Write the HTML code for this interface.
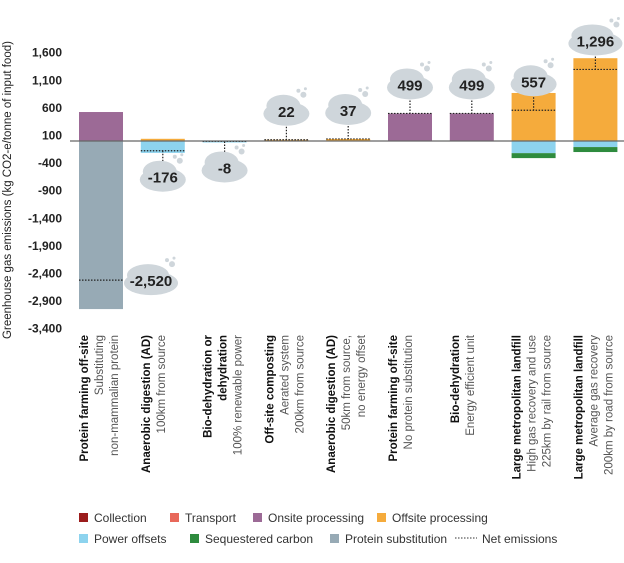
<!DOCTYPE html>
<html><head><meta charset="utf-8"><style>
body{margin:0;background:#fff;font-family:"Liberation Sans",sans-serif}
svg text{font-family:"Liberation Sans",sans-serif}
</style></head><body>
<svg id="c" width="624" height="558"></svg>
<script>
const boldLabels=["Protein farming off-site","Anaerobic digestion (AD)","Bio-dehydration or|dehydration","Off-site composting","Anaerobic digestion (AD)","Protein farming off-site","Bio-dehydration","Large metropolitan landfill","Large metropolitan landfill"];
const subLabels=["Substituting|non-mammalian protein","100km from source","100% renewable power","Aerated system|200km from source","50km from source,|no energy offset","No protein substitution","Energy efficient unit","High gas recovery and use|225km by rail from source","Average gas recovery|200km by road from source"];
const onsite=[525,0,0,0,0,499,499,0,0];
const offsite=[0,40,0,22,37,0,0,870,1500];
const power=[0,-216,-8,0,0,0,0,-220,-110];
const sequestered=[0,0,0,0,0,0,0,-90,-90];
const protein=[-3045,0,0,0,0,0,0,0,0];
const net=[-2520,-176,-8,22,37,499,499,557,1296];
const netLabels=["-2,520","-176","-8","22","37","499","499","557","1,296"];
const yTicks=[1600,1100,600,100,-400,-900,-1400,-1900,-2400,-2900,-3400];
const yTickLabels=["1,600","1,100","600","100","-400","-900","-1,400","-1,900","-2,400","-2,900","-3,400"];

const NS="http://www.w3.org/2000/svg",svg=document.getElementById('c');
function el(t,a,p){const e=document.createElementNS(NS,t);for(const k in a)e.setAttribute(k,a[k]);(p||svg).appendChild(e);return e;}
const y=v=>141-v*0.0552;
const bx=i=>79+i*61.8, bw=44;
const ta=el('text',{x:0,y:0,'font-size':11.5,fill:'#222','text-anchor':'middle',transform:'translate(11,190) rotate(-90)'});

ta.textContent="Greenhouse gas emissions (kg CO2-e/tonne of input food)";
yTicks.forEach((t,i)=>{const e=el('text',{x:62,y:y(t)+4,'font-size':12,'font-weight':'bold',fill:'#222','text-anchor':'end'});
e.textContent=yTickLabels[i];});
const series=[[onsite,'#9c6a96','onsite'],[offsite,'#f5ab3c','offsite'],[power,'#8dd3ee','power'],[sequestered,'#2e8b3e','sequestered'],[protein,'#97aab5','protein']];
for(let i=0;i<9;i++){
  let pos=0,neg=0;
  series.forEach(([arr,col,nm])=>{const v=arr[i];if(!v)return;let a,b;
    if(v>0){a=pos;b=pos+v;pos=b;}else{a=neg;b=neg+v;neg=b;}
    const r=el('rect',{x:bx(i),y:Math.min(y(a),y(b)),width:bw,height:Math.max(Math.abs(y(a)-y(b)),1.5),fill:col});
    });
  const ny=y(net[i]);
  const l=el('line',{x1:bx(i),x2:bx(i)+bw,y1:ny,y2:ny,stroke:'#222','stroke-width':1.2,'stroke-dasharray':'1.5,1.5'});
  
  let cx,cy;
  if(i===0){cx=bx(i)+bw+28;cy=ny;}
  else if(net[i]<0){cx=bx(i)+bw/2;cy=Math.min(y(neg),ny)+26;}
  else{cx=bx(i)+bw/2;cy=Math.max(y(pos),ny)-29;}
  const g=el('g',{});
  if(i>0)el('line',{x1:cx,x2:cx,y1:net[i]<0?ny:cy+13,y2:net[i]<0?cy-13:ny,stroke:'#222','stroke-width':1.2,'stroke-dasharray':'1.5,1.5'},g);
  const w=i===8||i===0?27:23;
  el('ellipse',{cx:cx,cy:cy+3,rx:w,ry:12,fill:'#cfd6db'},g);
  el('ellipse',{cx:cx-3,cy:cy-5,rx:w-6,ry:11,fill:'#cfd6db'},g);
  el('circle',{cx:cx+w-6,cy:cy-16,r:3,fill:'#cfd6db'},g);
  el('circle',{cx:cx+w-11,cy:cy-20,r:2,fill:'#cfd6db'},g);
  el('circle',{cx:cx+w-4,cy:cy-22,r:1.5,fill:'#cfd6db'},g);
  const t=el('text',{x:cx,y:cy+6,'font-size':15,'font-weight':'bold',fill:'#222','text-anchor':'middle'},g);t.textContent=netLabels[i];
  const bl=boldLabels[i].split('|'),sl=subLabels[i].split('|');
  const all=bl.map(s=>[s,1]).concat(sl.map(s=>[s,0]));
  const cg=el('g',{});
  all.forEach(([s,b],k)=>{const lx=bx(i)+9+k*15;
    const tt=el('text',{x:0,y:0,'font-size':11.5,'font-weight':b?'bold':'normal',fill:b?'#111':'#555','text-anchor':'end',transform:`translate(${lx},335) rotate(-90)`},cg);tt.textContent=s;});
}
const ax=el('line',{x1:70,x2:624,y1:141,y2:141,stroke:'#666','stroke-width':1.2});

const leg=[["Collection",'#9b1c1c',79,518],["Transport",'#e8685a',170,518],["Onsite processing",'#9c6a96',253,518],["Offsite processing",'#f5ab3c',377,518],["Power offsets",'#8dd3ee',79,539],["Sequestered carbon",'#2e8b3e',190,539],["Protein substitution",'#97aab5',330,539]];
leg.forEach(([n,c,x0,y0])=>{const g=el('g',{});
  el('rect',{x:x0,y:y0-5,width:9,height:9,fill:c},g);
  const t=el('text',{x:x0+15,y:y0+4,'font-size':12,fill:'#333'},g);t.textContent=n;});
const lg=el('g',{});
el('line',{x1:455,x2:477,y1:538,y2:538,stroke:'#333','stroke-dasharray':'1.5,1.5'},lg);
const lt=el('text',{x:482,y:543,'font-size':12,fill:'#333'},lg);lt.textContent="Net emissions";
</script>
</body></html>
